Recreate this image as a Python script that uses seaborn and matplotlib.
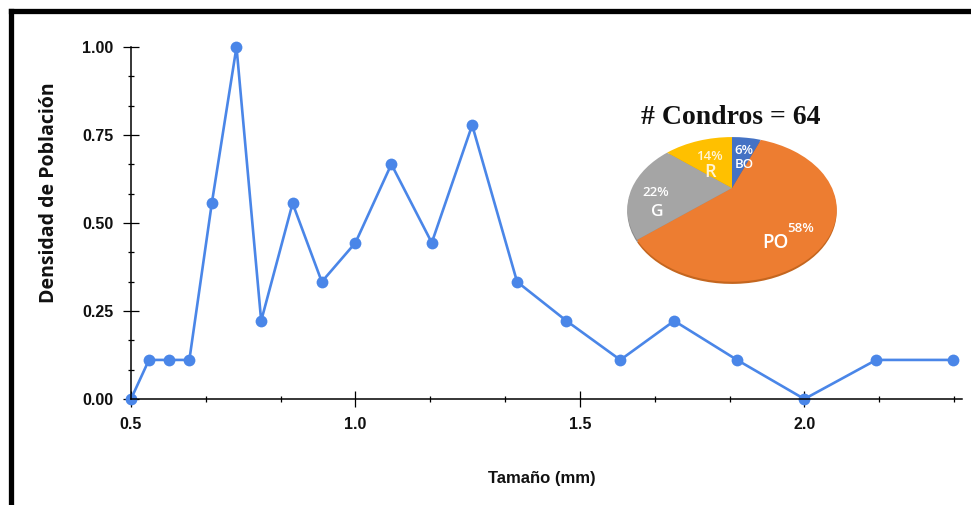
import numpy as np
import matplotlib
matplotlib.use("Agg")
import matplotlib.pyplot as plt
import matplotlib.transforms as mtransforms
from matplotlib.path import Path
from matplotlib.lines import Line2D
from matplotlib.ticker import MultipleLocator, FormatStrFormatter
import seaborn as sns

# Chondrule size distribution (mm) and normalised population density
size_mm = [0.5, 0.54, 0.585, 0.63, 0.68, 0.735, 0.79, 0.86, 0.925, 1.0, 1.08,
           1.17, 1.26, 1.36, 1.47, 1.59, 1.71, 1.85, 2.0, 2.16, 2.33]
density = [0.0, 0.111, 0.111, 0.111, 0.556, 1.0, 0.222, 0.556, 0.333, 0.444,
           0.667, 0.444, 0.778, 0.333, 0.222, 0.111, 0.222, 0.111, 0.0, 0.111,
           0.111]

# Chondrule textural types
types = ["BO", "PO", "G", "R"]
type_pct = [6, 58, 22, 14]
type_colors = ["#4472c4", "#ed7d31", "#a5a5a5", "#ffc000"]
n_chondrules = 64

sns.set_theme(style="white")
plt.rcParams["font.family"] = ["Liberation Sans", "DejaVu Sans"]

W, H = 971, 505
fig = plt.figure(figsize=(W / 100, H / 100), dpi=100)
fig.patch.set_facecolor("white")


def px_box(x0, y0, x1, y1):
    return [x0 / W, 1 - y1 / H, (x1 - x0) / W, (y1 - y0) / H]


line_color = "#4a86e8"
ax = fig.add_axes(px_box(131, 47, 961.5, 399))
sns.lineplot(x=size_mm, y=density, ax=ax, color=line_color, linewidth=1.9,
             marker="o", markersize=8.5, markeredgewidth=0,
             markerfacecolor=line_color, clip_on=False, sort=False)

ax.set_xlim(0.5, 2.35)
ax.set_ylim(0, 1.0)
ax.set_facecolor("white")
for side in ("top", "right"):
    ax.spines[side].set_visible(False)
for side in ("left", "bottom"):
    ax.spines[side].set_color("black")
    ax.spines[side].set_linewidth(1.1)

ax.xaxis.set_major_locator(MultipleLocator(0.5))
ax.xaxis.set_minor_locator(MultipleLocator(1 / 6))
ax.yaxis.set_major_locator(MultipleLocator(0.25))
ax.yaxis.set_minor_locator(MultipleLocator(1 / 12))
ax.xaxis.set_major_formatter(FormatStrFormatter("%.1f"))
ax.yaxis.set_major_formatter(FormatStrFormatter("%.2f"))
ax.tick_params(which="both", bottom=True, left=True, top=False, right=False)
ax.tick_params(which="major", direction="inout", length=12, width=0.9,
               color="black", labelsize=11.5)
ax.tick_params(which="minor", direction="inout", length=5, width=0.9,
               color="black")
ax.tick_params(axis="x", which="major", pad=7)
ax.tick_params(axis="y", which="major", pad=6.5)
for lab in ax.get_xticklabels() + ax.get_yticklabels():
    lab.set_fontweight("bold")
    lab.set_color("#111111")

ax.set_xlabel("Tamaño (mm)", fontsize=12, fontweight="bold", color="#111111")
ax.set_ylabel("Densidad de Población", fontsize=14, fontweight="bold",
              color="#111111", family=["Open Sans", "DejaVu Sans"])
ax.xaxis.set_label_coords(0.495, -0.227)
ax.xaxis.label.set_verticalalignment("center")
ax.yaxis.set_label_coords(-0.099, 0.585)
ax.yaxis.label.set_verticalalignment("center")
ax.grid(False)


class TiltedDisk(mtransforms.Transform):
    """Perspective view of a unit disk tilted away from the viewer."""
    input_dims = 2
    output_dims = 2
    is_separable = False
    has_inverse = False

    def __init__(self, tilt_deg=48.7, dist=2.54):
        super().__init__()
        self.s = np.sin(np.radians(tilt_deg))
        self.c = np.cos(np.radians(tilt_deg))
        self.d = dist

    def transform_non_affine(self, values):
        v = np.asarray(values, dtype=float)
        u, w = v[:, 0], v[:, 1]
        k = self.d / (self.d + w * self.s)
        return np.column_stack([u * k, w * self.c * k])

    def transform_path_non_affine(self, path):
        return Path(self.transform_non_affine(path.vertices), path.codes)


pax = fig.add_axes(px_box(622, 132, 842, 288))
pax.set_facecolor("none")
disk = TiltedDisk()

# darker rim giving the disk some thickness
rim_colors = ["#30549a", "#c4661f", "#8a8a8a", "#d9a200"]
rim, _ = pax.pie(type_pct, colors=rim_colors, startangle=90,
                 counterclock=False, wedgeprops=dict(linewidth=0))
rim_shift = mtransforms.Affine2D().translate(0, -0.022)
for wdg in rim:
    wdg.set_transform(disk + rim_shift + pax.transData)
    wdg.set_zorder(1)

wedges, _ = pax.pie(type_pct, colors=type_colors, startangle=90,
                    counterclock=False, wedgeprops=dict(linewidth=0))
for wdg in wedges:
    wdg.set_transform(disk + pax.transData)
    wdg.set_zorder(2)

pax.set_aspect("auto")
pax.set_xlim(-1.1, 1.1)
pax.set_ylim(-1.0, 0.56)
pax.axis("off")

pie_font = ["Open Sans", "DejaVu Sans"]
pct_pos = {"BO": (0.12, 0.37), "PO": (0.69, -0.41),
           "G": (-0.76, -0.05), "R": (-0.23, 0.32)}
name_pos = {"BO": (0.12, 0.23), "PO": (0.43, -0.55),
            "G": (-0.75, -0.24), "R": (-0.22, 0.16)}
name_size = {"BO": 9.5, "PO": 13.5, "G": 12.5, "R": 13}
text_col = {"BO": "white", "PO": "white", "G": "white", "R": "#fff4d6"}
for name, pct in zip(types, type_pct):
    px_, py_ = pct_pos[name]
    pax.text(px_, py_, f"{pct}%", ha="center", va="center", fontsize=9.5,
             fontweight="semibold", color=text_col[name], family=pie_font,
             zorder=5)
    nx, ny = name_pos[name]
    pax.text(nx, ny, name, ha="center", va="center",
             fontsize=name_size[name], fontweight="semibold",
             color=text_col[name], family=pie_font, zorder=5)

fig.text(731 / W, 1 - 117 / H, f"# Condros = {n_chondrules}", ha="center",
         va="center", fontsize=20, fontweight="bold",
         family=["Liberation Serif", "DejaVu Serif"], color="#111111")

# outer frame (top and left edges)
fy = 1 - 10.5 / H
fx = 10.5 / W
fig.add_artist(Line2D([fx, 1.0], [fy, fy], transform=fig.transFigure,
                      color="black", linewidth=3.8, solid_capstyle="projecting"))
fig.add_artist(Line2D([fx, fx], [0.0, fy], transform=fig.transFigure,
                      color="black", linewidth=3.8, solid_capstyle="projecting"))

fig.savefig("out.png", dpi=100, facecolor="white")
